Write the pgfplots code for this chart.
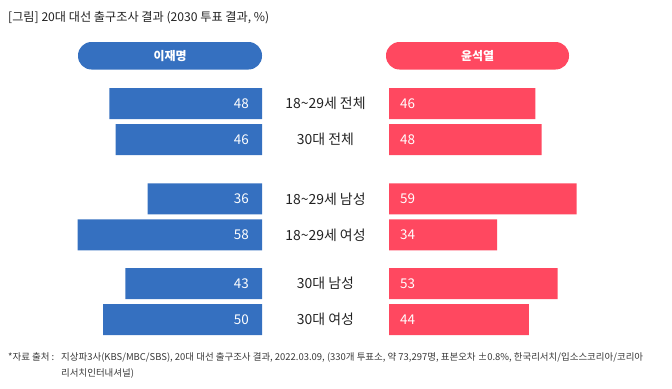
\documentclass[border=0pt]{standalone}
\usepackage{fontspec}
\setmainfont{Noto Sans CJK KR}
\newfontfamily\footfont{Noto Sans CJK KR}
\usepackage{pgfplots}
\pgfplotsset{compat=1.18}
\definecolor{lee}{HTML}{3570C0}
\definecolor{yoon}{HTML}{FF4860}
\definecolor{txt}{HTML}{222222}
\begin{document}
\begin{tikzpicture}
\useasboundingbox (0bp,0bp) rectangle (672bp,-389bp);
% title
\node[anchor=west, inner sep=0, font=\fontsize{12.2}{14}\selectfont, text=txt] at (8bp,-18bp) {[그림] 20대 대선 출구조사 결과 (2030 투표 결과, \%)};
% header pills
\fill[lee, rounded corners=13.5bp] (78bp,-42bp) rectangle (262bp,-69.5bp);
\node[text=white, font=\bfseries\fontsize{12}{14}\selectfont] at (170bp,-55.75bp) {이재명};
\fill[yoon, rounded corners=13.5bp] (386bp,-42bp) rectangle (569bp,-69.5bp);
\node[text=white, font=\bfseries\fontsize{12}{14}\selectfont] at (477.5bp,-55.75bp) {윤석열};

% left axis (이재명)
\begin{axis}[
  at={(262bp,-85.5bp)}, anchor=north east,
  scale only axis, width=190.8bp, height=252bp,
  xmin=0, xmax=60, x dir=reverse,
  ymin=-0.5, ymax=6.5, y dir=reverse,
  axis line style={draw=none}, xtick=\empty, ytick=\empty,
  clip=false,
]
\addplot[xbar, bar width=31bp, fill=lee, draw=none]
  coordinates {(48,0) (46,1) (36,2.65) (58,3.65) (43,5) (50,6)};
\addplot[draw=none, mark=none, nodes near coords, point meta=explicit symbolic,
  every node near coord/.style={anchor=east, xshift=-13bp, text=white, inner sep=0, font=\fontsize{13.5}{15}\selectfont}]
  coordinates {(0,0)[48] (0,1)[46] (0,2.65)[36] (0,3.65)[58] (0,5)[43] (0,6)[50]};
\end{axis}

% right axis (윤석열)
\begin{axis}[
  at={(389bp,-85.5bp)}, anchor=north west,
  scale only axis, width=190.8bp, height=252bp,
  xmin=0, xmax=60,
  ymin=-0.5, ymax=6.5, y dir=reverse,
  axis line style={draw=none}, xtick=\empty,
  ytick={0,1,2.65,3.65,5,6},
  yticklabels={18\textasciitilde29세 전체, 30대 전체, 18\textasciitilde29세 남성, 18\textasciitilde29세 여성, 30대 남성, 30대 여성},
  major tick length=0,
  yticklabel style={anchor=center, xshift=-63.5bp, text=txt, font=\fontsize{14}{16}\selectfont},
  clip=false,
]
\addplot[xbar, bar width=31bp, fill=yoon, draw=none]
  coordinates {(46,0) (48,1) (59,2.65) (34,3.65) (53,5) (44,6)};
\addplot[draw=none, mark=none, nodes near coords, point meta=explicit symbolic,
  every node near coord/.style={anchor=west, xshift=11bp, text=white, inner sep=0, font=\fontsize{13.5}{15}\selectfont}]
  coordinates {(0,0)[46] (0,1)[48] (0,2.65)[59] (0,3.65)[34] (0,5)[53] (0,6)[44]};
\end{axis}

% footnote
\node[anchor=base west, inner sep=0, font=\footfont\fontsize{9.5}{11}\selectfont, text=txt!90] at (8bp,-360bp) {*자료 출처 :};
\node[anchor=base west, inner sep=0, font=\footfont\fontsize{9.5}{11}\selectfont, text=txt!90] at (61bp,-360bp) {지상파3사(KBS/MBC/SBS), 20대 대선 출구조사 결과, 2022.03.09, (330개 투표소, 약 73,297명, 표본오차 ±0.8\%, 한국리서치/입소스코리아/코리아};
\node[anchor=base west, inner sep=0, font=\footfont\fontsize{9.5}{11}\selectfont, text=txt!90] at (61bp,-376bp) {리서치인터내셔널)};
\end{tikzpicture}
\end{document}
